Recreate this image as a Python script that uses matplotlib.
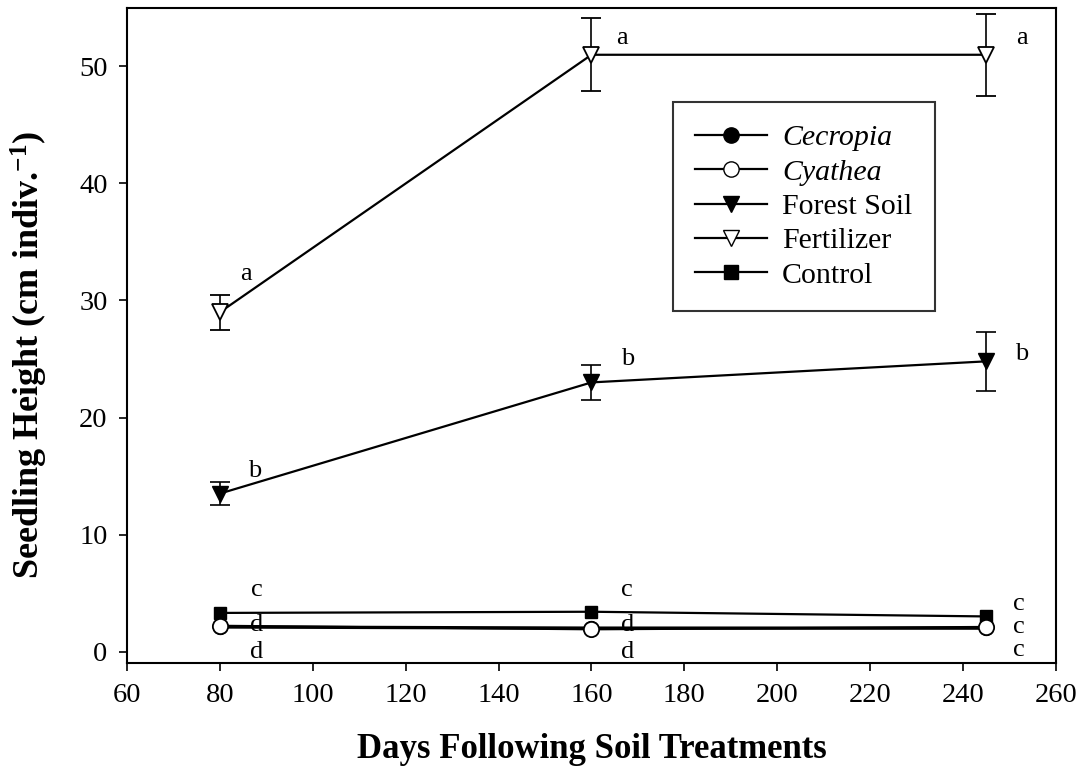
import matplotlib
matplotlib.use("Agg")
import matplotlib.pyplot as plt
from matplotlib.lines import Line2D

plt.rcParams['font.family'] = ['Liberation Serif', 'DejaVu Serif']
plt.rcParams['mathtext.fontset'] = 'custom'
plt.rcParams['mathtext.rm'] = 'Liberation Serif'
plt.rcParams['mathtext.it'] = 'Liberation Serif:italic'
plt.rcParams['mathtext.bf'] = 'Liberation Serif:bold'

days = [80, 160, 245]

cecropia = [2.1, 2.0, 2.0]
cyathea = [2.2, 1.9, 2.1]
forest_soil = [13.5, 23.0, 24.8]
forest_soil_err = [1.0, 1.5, 2.5]
fertilizer = [29.0, 51.0, 51.0]
fertilizer_err = [1.5, 3.1, 3.5]
control = [3.3, 3.4, 3.0]

series_names = ['Cecropia', 'Cyathea', 'Forest Soil', 'Fertilizer', 'Control']

# significance letters: (day, height, letter)
letters = [
    (85.6, 32.3, 'a'), (166.5, 52.4, 'a'), (252.7, 52.4, 'a'),
    (87.5, 15.4, 'b'), (167.7, 25.0, 'b'), (252.7, 25.4, 'b'),
    (88.0, 5.3, 'c'), (167.7, 5.3, 'c'),
    (88.0, 2.25, 'd'), (167.7, 2.25, 'd'),
    (88.0, 0.0, 'd'), (167.7, 0.0, 'd'),
    (252.0, 4.1, 'c'), (252.0, 2.1, 'c'), (252.0, 0.1, 'c'),
]

fig = plt.figure(figsize=(10.9, 7.73), dpi=100)
ax = fig.add_axes([0.1165, 0.142, 0.8523, 0.8477])

lw = 1.6
ax.plot(days, cecropia, '-', color='black', lw=2.4, marker='o', ms=10,
        mfc='black', mec='black', zorder=3)
ax.plot(days, cyathea, '-', color='black', lw=lw, marker='o', ms=11,
        mfc='white', mec='black', mew=1.3, zorder=4)
ax.errorbar(days, forest_soil, yerr=forest_soil_err, fmt='-v', color='black',
            lw=lw, ms=11, mfc='black', mec='black', ecolor='black',
            elinewidth=1.2, capsize=7, capthick=1.2, zorder=3)
ax.errorbar(days, fertilizer, yerr=fertilizer_err, fmt='-v', color='black',
            lw=lw, ms=12, mfc='white', mec='black', mew=1.3, ecolor='black',
            elinewidth=1.2, capsize=7, capthick=1.2, zorder=3)
ax.plot(days, control, '-', color='black', lw=lw, marker='s', ms=9,
        mfc='black', mec='black', zorder=3)

for x, y, s in letters:
    ax.text(x, y, s, fontsize=19, ha='center', va='center', color='black')

ax.set_xlim(60, 260)
ax.set_ylim(-1, 55)
ax.set_xticks(range(60, 261, 20))
ax.set_yticks(range(0, 51, 10))
ax.tick_params(direction='out', length=6, width=1.2, labelsize=20.5, pad=8)
for sp in ax.spines.values():
    sp.set_linewidth(1.5)

ax.set_xlabel('Days Following Soil Treatments', fontsize=25, fontweight='bold', labelpad=18)
ax.set_ylabel('Seedling Height (cm indiv.$^{\\mathbf{-1}}$)', fontsize=26,
              fontweight='bold')
ax.yaxis.set_label_coords(-0.083, 0.47)

styles = [
    dict(marker='o', mfc='black', ms=11),
    dict(marker='o', mfc='white', ms=11),
    dict(marker='v', mfc='black', ms=12),
    dict(marker='v', mfc='white', ms=12),
    dict(marker='s', mfc='black', ms=10),
]
handles = [Line2D([], [], color='black', lw=lw, mec='black', **st) for st in styles]
leg = ax.legend(handles, series_names, loc='upper left',
                bbox_to_anchor=(0.5877, 0.8565), fontsize=21.5,
                frameon=True, fancybox=False, edgecolor='black', handlelength=2.4,
                borderpad=0.75, labelspacing=0.25, handletextpad=0.5,
                borderaxespad=0)
leg.get_frame().set_linewidth(1.5)
for t in leg.get_texts()[:2]:
    t.set_fontstyle('italic')

fig.savefig('out.png', dpi=100)
